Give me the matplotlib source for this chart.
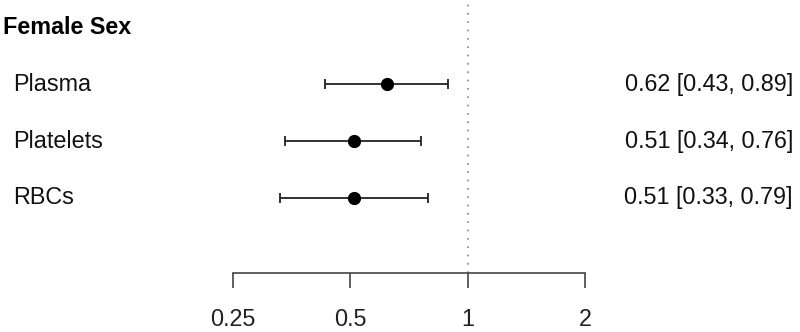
import numpy as np
import matplotlib
matplotlib.use("Agg")
import matplotlib.pyplot as plt
import matplotlib.transforms as mtransforms

plt.rcParams['font.family'] = ['Liberation Sans', 'DejaVu Sans']

# data
header = "Female Sex"
labels = ["Plasma", "Platelets", "RBCs"]
est = [0.62, 0.51, 0.51]
lo = [0.43, 0.34, 0.33]
hi = [0.89, 0.76, 0.79]
ticks = [0.25, 0.5, 1, 2]
tick_labels = ["0.25", "0.5", "1", "2"]

W, H = 800, 332
fs = 16.8
fig = plt.figure(figsize=(W / 100, H / 100), dpi=100)
ax = fig.add_axes([233 / W, 1 - 273 / H, (585 - 233) / W, 273 / H])
ax.set_xscale('log', base=2)
ax.set_xlim(0.25, 2)
ax.set_ylim(-0.316, 4.474)

ypos = np.arange(len(labels), 0, -1)
est_a, lo_a, hi_a = np.array(est), np.array(lo), np.array(hi)
ax.errorbar(est_a, ypos, xerr=[est_a - lo_a, hi_a - est_a], fmt='o', color='black',
            ms=8.5, elinewidth=1.3, capsize=3.6, capthick=1.3, ecolor='#222222', clip_on=False)

ax.plot([1, 1], [-0.316, 4.474], linestyle=(0, (1, 4)), color='#888888', lw=1.2, clip_on=False)

# text columns
row_tf = mtransforms.blended_transform_factory(fig.transFigure, ax.transData)
ax.text(3 / W, 4, header, transform=row_tf, fontsize=fs, fontweight='bold',
        va='center', ha='left')
for y, lab, e, l, h in zip(ypos, labels, est, lo, hi):
    ax.text(13 / W, y, lab, transform=row_tf, fontsize=fs, va='center', ha='left', color='#111111')
    ax.text(793 / W, y, f"{e:.2f} [{l:.2f}, {h:.2f}]", fontsize=fs, va='center', ha='right',
            transform=row_tf, color='#111111')

for s in ['top', 'right', 'left']:
    ax.spines[s].set_visible(False)
ax.spines['bottom'].set_color('#444444')
ax.spines['bottom'].set_linewidth(1.2)
ax.set_yticks([])
ax.set_xticks(ticks)
ax.set_xticklabels(tick_labels)
ax.minorticks_off()
ax.tick_params(axis='x', length=11, width=1.2, color='#444444', labelsize=fs, pad=14.5, labelcolor='#222222')
ax.patch.set_visible(False)

fig.savefig("out.png", dpi=100)
